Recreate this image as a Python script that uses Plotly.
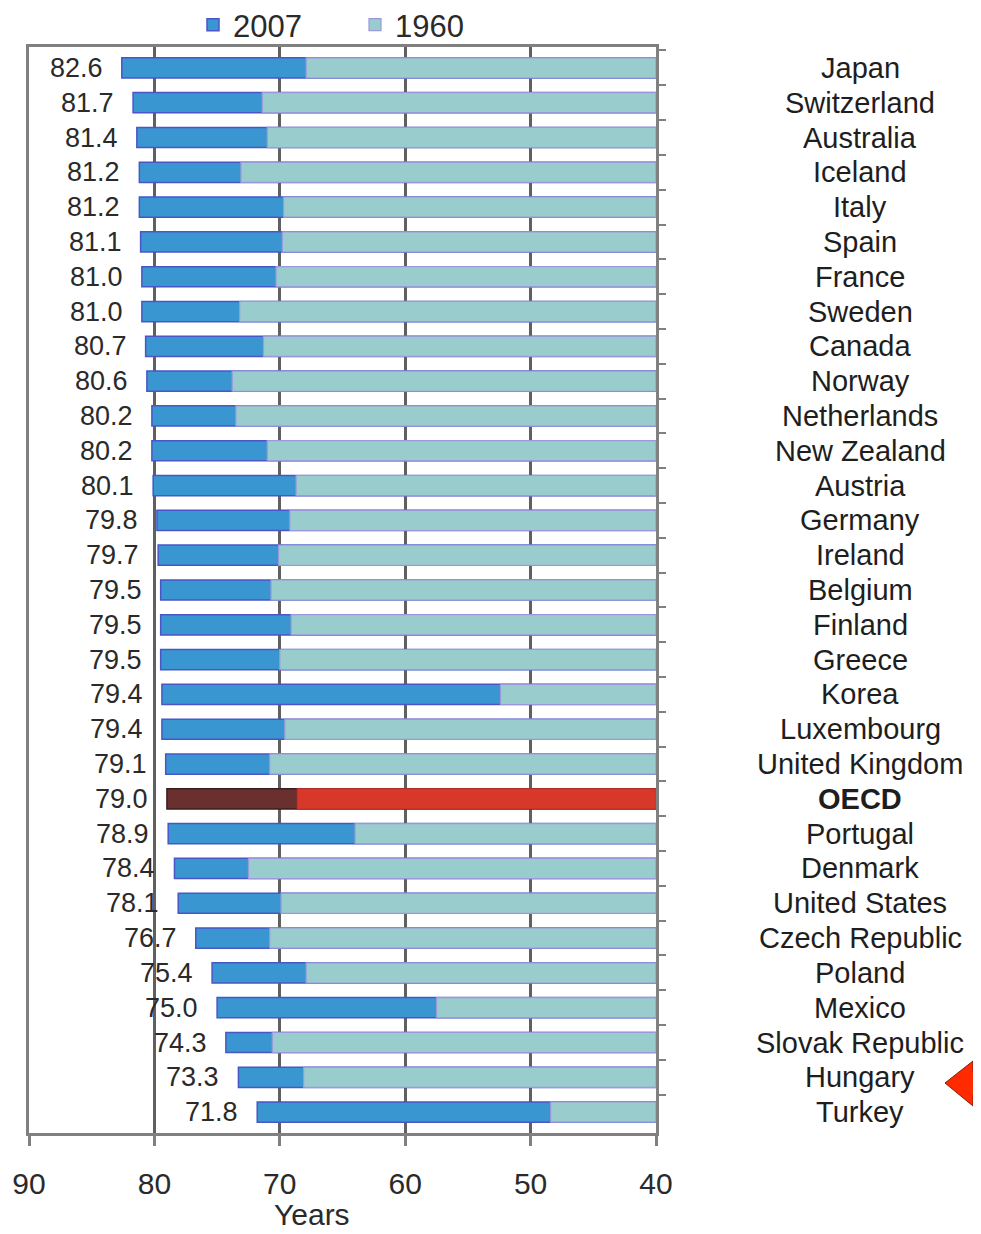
import plotly.graph_objects as go

countries = ["Japan", "Switzerland", "Australia", "Iceland", "Italy", "Spain", "France",
             "Sweden", "Canada", "Norway", "Netherlands", "New Zealand", "Austria",
             "Germany", "Ireland", "Belgium", "Finland", "Greece", "Korea", "Luxembourg",
             "United Kingdom", "OECD", "Portugal", "Denmark", "United States",
             "Czech Republic", "Poland", "Mexico", "Slovak Republic", "Hungary", "Turkey"]
le_2007 = [82.6, 81.7, 81.4, 81.2, 81.2, 81.1, 81.0, 81.0, 80.7, 80.6, 80.2, 80.2, 80.1,
           79.8, 79.7, 79.5, 79.5, 79.5, 79.4, 79.4, 79.1, 79.0, 78.9, 78.4, 78.1, 76.7,
           75.4, 75.0, 74.3, 73.3, 71.8]
le_1960 = [67.9, 71.4, 71.0, 73.1, 69.7, 69.8, 70.3, 73.2, 71.3, 73.8, 73.5, 71.0, 68.7,
           69.2, 70.1, 70.7, 69.1, 70.0, 52.4, 69.6, 70.8, 68.6, 64.0, 72.5, 69.9, 70.8,
           67.9, 57.5, 70.6, 68.1, 48.4]
x_ticks = [90, 80, 70, 60, 50, 40]
axis_base = 40
highlight = "OECD"

FONT = "Liberation Sans, Arial, sans-serif"
OFF = 8  # page body margin of the html page
W, H = 981 - OFF, 1234 - OFF
ML, MT = 29 - OFF, 47 - OFF
MR = W - (656 - OFF)
MB = H - (1133 - OFF)
plot_w = W - ML - MR
plot_h = H - MT - MB


def paper(xp, yp):
    """reference-picture pixel -> paper fraction"""
    return (xp - OFF - ML) / plot_w, (H - MB - (yp - OFF)) / plot_h


c07 = ["#6a2f2f" if c == highlight else "#3a96d0" for c in countries]
l07 = ["#3d1c1c" if c == highlight else "#4a55c8" for c in countries]
c60 = ["#d8382a" if c == highlight else "#99cccc" for c in countries]
l60 = ["#c8302a" if c == highlight else "#9c98dc" for c in countries]

fig = go.Figure()
fig.add_trace(go.Bar(
    name="2007", y=countries, x=[v - axis_base for v in le_2007], base=axis_base,
    orientation="h", width=0.58,
    marker=dict(color=c07, line=dict(color=l07, width=1.5)),
    hoverinfo="skip",
))
fig.add_trace(go.Bar(
    name="1960", y=countries, x=[v - axis_base for v in le_1960], base=axis_base,
    orientation="h", width=0.58,
    marker=dict(color=c60, line=dict(color=l60, width=1.2)),
    hoverinfo="skip",
))

annotations = []
for c, v in zip(countries, le_2007):
    annotations.append(dict(
        x=v, y=c, xref="x", yref="y", text=f"{v:.1f}", showarrow=False,
        xanchor="right", yanchor="middle", xshift=-17,
        font=dict(family=FONT, size=27, color="#2a2a2a"),
    ))
label_x = paper(860, 0)[0]
for c in countries:
    txt = f"<b>{c}</b>" if c == highlight else c
    annotations.append(dict(
        x=label_x, y=c, xref="paper", yref="y", text=txt, showarrow=False,
        xanchor="center", yanchor="middle",
        font=dict(family=FONT, size=29, color="#1e1e1e"),
    ))
yx, yy = paper(312, 1214)
annotations.append(dict(
    x=yx, y=yy, xref="paper", yref="paper",
    text="Years", showarrow=False, xanchor="center", yanchor="middle",
    font=dict(family=FONT, size=30, color="#2a2a2a"),
))

pts = [(945, 1083), (973, 1061), (973, 1072), (981, 1072), (981, 1095), (973, 1095), (973, 1106)]
path = "M " + " L ".join("%.5f,%.5f" % paper(a, b) for a, b in pts) + " Z"
shapes = [dict(type="path", xref="paper", yref="paper", path=path,
               fillcolor="#ff2a00", line=dict(color="#8a1a00", width=1), layer="above")]

fig.update_layout(
    width=W, height=H,
    margin=dict(l=ML, r=MR, t=MT, b=MB, autoexpand=False),
    paper_bgcolor="white", plot_bgcolor="white",
    barmode="overlay",
    font=dict(family=FONT, size=28, color="#2a2a2a"),
    showlegend=True,
    legend=dict(orientation="h", xref="container", yref="container",
                x=(193 - OFF) / W, xanchor="left",
                y=1 - (25 - OFF) / H, yanchor="middle",
                font=dict(family=FONT, size=31, color="#2a2a2a"),
                itemwidth=30, entrywidth=117, entrywidthmode="pixels",
                bgcolor="rgba(0,0,0,0)", traceorder="normal"),
    annotations=annotations,
    shapes=shapes,
    xaxis=dict(
        range=[90, 40], tickvals=x_ticks, ticktext=[str(t) for t in x_ticks],
        showgrid=True, gridcolor="#606060", gridwidth=2.5,
        showline=True, linecolor="#808080", linewidth=3, mirror=True,
        ticks="outside", ticklen=10, tickwidth=2.5, tickcolor="#808080",
        tickfont=dict(family=FONT, size=30, color="#2a2a2a"),
        ticklabelstandoff=12, zeroline=False, automargin=False,
    ),
    yaxis=dict(
        type="category", categoryorder="array", categoryarray=countries,
        range=[len(countries) - 0.4, -0.6],
        side="right", showline=True, linecolor="#808080", linewidth=3, mirror=True,
        ticks="outside", tickson="boundaries", ticklen=7, tickwidth=2, tickcolor="#808080",
        showticklabels=False, showgrid=False, zeroline=False, automargin=False,
    ),
)

fig.write_html("out.html")
